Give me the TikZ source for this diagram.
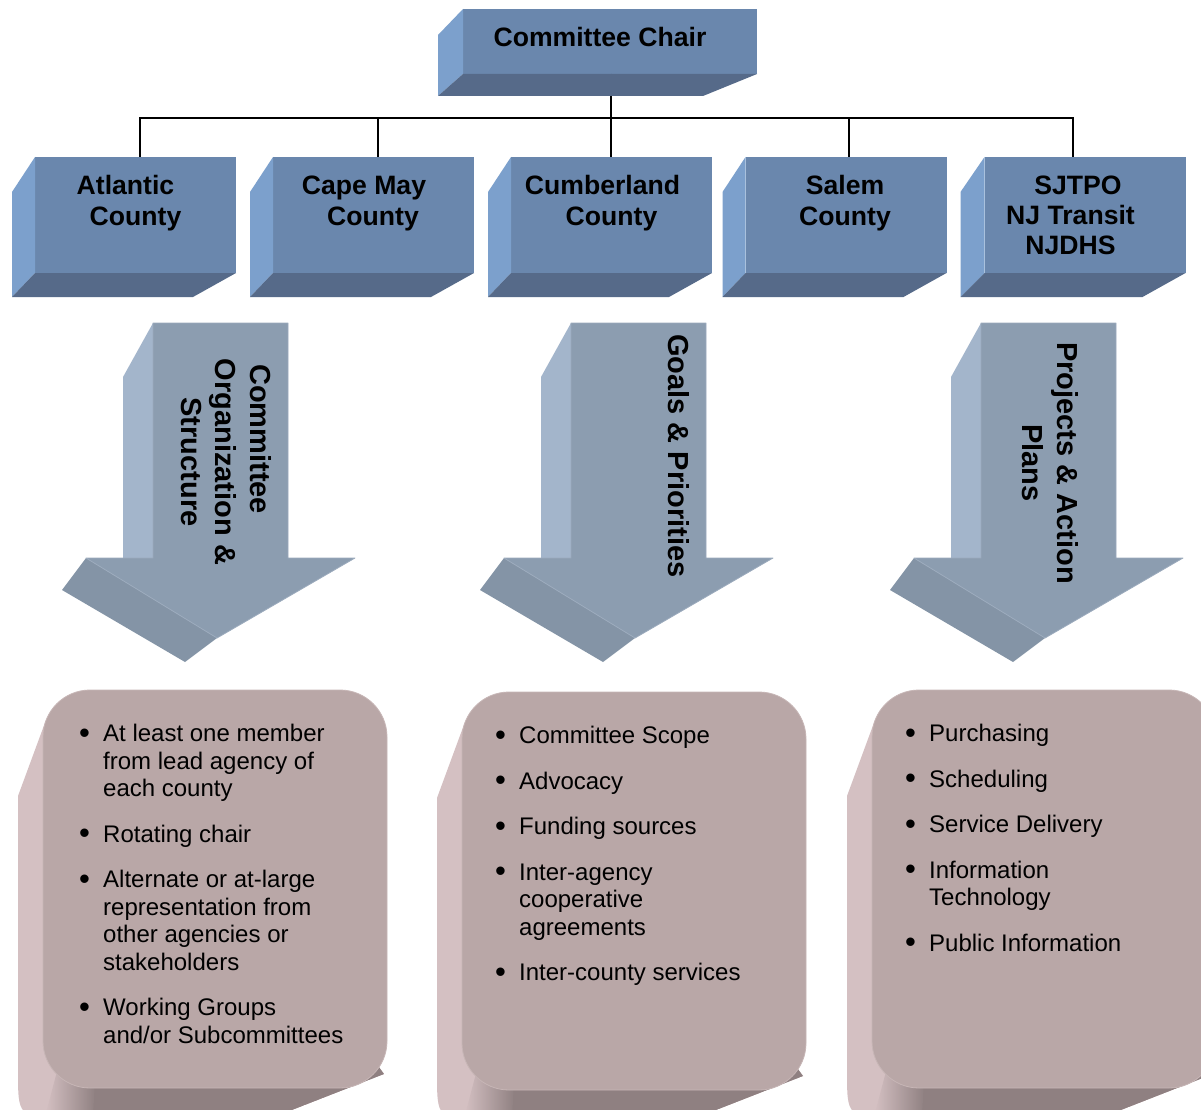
\documentclass[tikz,border=0pt]{standalone}
\usepackage{fontspec}
\setmainfont{Liberation Sans}
\usetikzlibrary{calc}

\definecolor{frontB}{HTML}{6A87AD}
\definecolor{sideB}{HTML}{7CA0CC}
\definecolor{botB}{HTML}{566A89}
\definecolor{arrF}{HTML}{8C9DB0}
\definecolor{arrS}{HTML}{A3B5CB}
\definecolor{arrD}{HTML}{8494A6}
\definecolor{arrL}{HTML}{9CABBD}
\definecolor{boxF}{HTML}{B9A7A7}
\definecolor{boxS}{HTML}{D4C0C2}
\definecolor{boxD}{HTML}{8F8081}
\definecolor{boxL}{HTML}{C7B6B6}

% side faces of an extruded box: node, d, e, g, h
\newcommand\boxsides[5]{%
  \fill[sideB] (#1.north west) -- ++(-#2,#3) -- ($(#1.south west)+(-#2,#4)$) -- (#1.south west) -- cycle;
  \fill[botB] (#1.south west) -- (#1.south east) -- ++(-#5,#4) -- ($(#1.south west)+(-#2,#4)$) -- cycle;}

\newcommand\arrowshape[1]{%
  \begin{scope}[shift={(#1,0)}]
    \fill[arrS] (153,323) -- (123,377) -- (123,558) -- (153,558) -- cycle;
    \fill[arrD] (86,558) -- (62,590) -- (185,662) -- (217,638) -- cycle;
    \filldraw[fill=arrF, draw=arrL, line width=0.8pt, line join=round]
      (153,323) -- (288,323) -- (288,558) -- (355,558) -- (217,638) -- (86,558) -- (153,558) -- cycle;
  \end{scope}}

\newcommand\roundbox[3]{%
  \begin{scope}[shift={(#2,#3)}]
    \fill[boxS] (46,720) -- (18,796) -- (18,1070) .. controls (18,1117) .. (65,1117) -- (274,1117) -- (384,1074) -- (330,1000) -- (200,760) -- cycle;
    \begin{scope}
      \clip (46,720) -- (18,796) -- (18,1070) .. controls (18,1117) .. (65,1117) -- (274,1117) -- (384,1074) -- (330,1000) -- (200,760) -- cycle;
      \fill[boxD] (95,1060) -- (384,1060) -- (384,1074) -- (274,1117) -- (92,1117) -- cycle;
      \shade[left color=boxS, right color=boxD] (60,1060) -- (96,1060) -- (93,1117) -- (45,1117) -- cycle;
    \end{scope}
    \node[bfront] (#1) at (215,889) {};
  \end{scope}}

\newcommand\bul{\makebox[24pt][l]{\raisebox{-1.5pt}{\fontsize{31}{27.5}\selectfont\textbullet}}}
\newcommand\cont{\hspace*{24pt}}

\begin{document}
\begin{tikzpicture}[x=1pt,y=-1pt,
  frontface/.style={fill=frontB, inner sep=0pt, outer sep=0pt},
  ttl/.style={font=\fontsize{26.6}{31}\selectfont\bfseries, align=center, inner sep=0pt, anchor=north},
  arrtxt/.style={font=\fontsize{29}{34.5}\selectfont\bfseries, align=center, inner sep=0pt, rotate=-90},
  link/.style={draw=black, line width=1.4pt},
  bfront/.style={fill=boxF, draw=boxL, line width=0.8pt, rounded corners=47pt, inner sep=0pt, outer sep=0pt, minimum width=344pt, minimum height=398pt},
  btxt/.style={font=\fontsize{24}{27.5}\selectfont, align=left, inner sep=0pt, anchor=north west},
]
\useasboundingbox (0,0) rectangle (1201,1110);
\clip (0,0) rectangle (1201,1110);
\fill[white] (0,0) rectangle (1201,1110);

% front faces
\node[frontface, minimum width=294pt, minimum height=65pt] (chair) at (610,41.5) {};
\node[frontface, minimum width=201pt, minimum height=116pt] (atl) at (135.5,215) {};
\node[frontface, minimum width=201pt, minimum height=116pt] (cap) at (373.5,215) {};
\node[frontface, minimum width=201pt, minimum height=116pt] (cum) at (611.5,215) {};
\node[frontface, minimum width=201pt, minimum height=116pt] (sal) at (846,215) {};
\node[frontface, minimum width=201pt, minimum height=116pt] (sjt) at (1085,215) {};

% connectors
\draw[link] ([xshift=1pt]chair.south) -- ++(0,44) coordinate (hub);
\draw[link] (hub) -| ([xshift=4.5pt]atl.north);
\draw[link] (hub) -| ([xshift=4.5pt]cap.north);
\draw[link] (hub) -| ([xshift=-0.5pt]cum.north);
\draw[link] (hub) -| ([xshift=3pt]sal.north);
\draw[link] (hub) -| ([xshift=-12pt]sjt.north);

% side faces
\boxsides{chair}{25}{26}{22}{54}
\boxsides{atl}{23}{35}{24}{43}
\boxsides{cap}{23}{35}{24}{43}
\boxsides{cum}{23}{35}{24}{43}
\boxsides{sal}{23}{35}{24}{43}
\boxsides{sjt}{24}{35}{24}{43}

% labels
\node[ttl] (chairT) at (600,27.5) {Committee Chair};
\node[ttl] (atlT) at (130.5,175.5) {Atlantic\makebox[10pt]{}\\\makebox[10pt]{}County};
\node[ttl] (capT) at (368.5,175.5) {Cape May\makebox[9pt]{}\\\makebox[9pt]{}County};
\node[ttl] (cumT) at (607,175.5) {Cumberland\makebox[9pt]{}\\\makebox[9pt]{}County};
\node[ttl] (salT) at (845,175.5) {Salem\\County};
\node[ttl, font=\fontsize{26.6}{30}\selectfont\bfseries] (sjtT) at (1070.5,176) {\makebox[15pt]{}SJTPO\\NJ Transit\\NJDHS};

% arrows
\arrowshape{0}
\arrowshape{418}
\arrowshape{828}
\node[arrtxt] (a1T) at (226,462) {Committee\makebox[46pt]{}\\Organization \&\\Structure};
\node[arrtxt] (a2T) at (679,456) {Goals \& Priorities};
\node[arrtxt] (a3T) at (1050.5,463) {Projects \& Action\\Plans};

% bottom boxes
\roundbox{b1}{0}{0}
\roundbox{b2}{419}{2}
\roundbox{b3}{829}{0}

\node[btxt] (t1) at (79,724) {\bul At least one member\\\cont from lead agency of\\\cont each county\\[18pt]\bul Rotating chair\\[18pt]\bul Alternate or at-large\\\cont representation from\\\cont other agencies or\\\cont stakeholders\\[18pt]\bul Working Groups\\\cont and/or Subcommittees};
\node[btxt] (t2) at (495,726) {\bul Committee Scope\\[18pt]\bul Advocacy\\[18pt]\bul Funding sources\\[18pt]\bul Inter-agency\\\cont cooperative\\\cont agreements\\[18pt]\bul Inter-county services};
\node[btxt] (t3) at (905,724) {\bul Purchasing\\[18pt]\bul Scheduling\\[18pt]\bul Service Delivery\\[18pt]\bul Information\\\cont Technology\\[18pt]\bul Public Information};
\end{tikzpicture}
\end{document}
